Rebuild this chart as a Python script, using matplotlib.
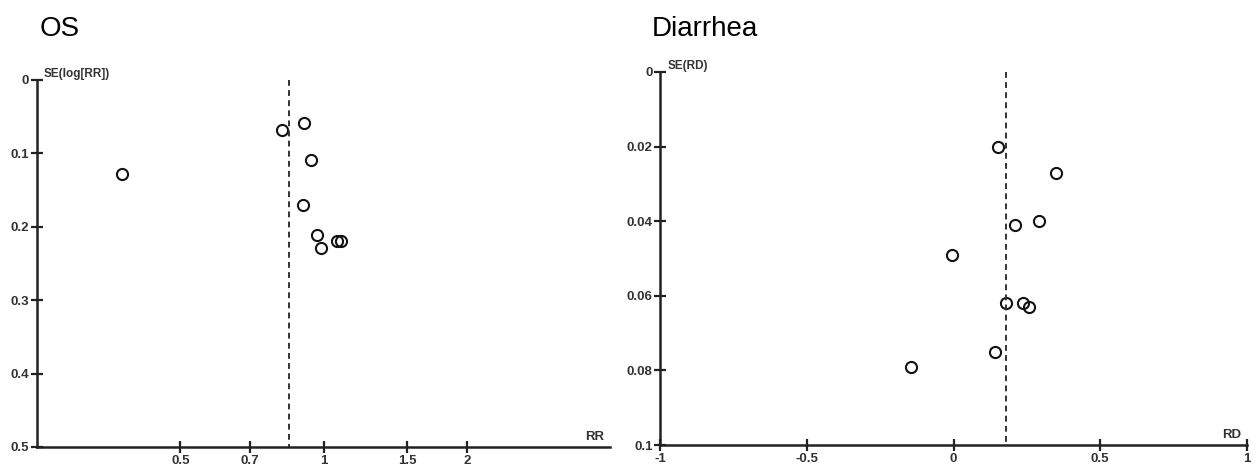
import matplotlib
matplotlib.use('Agg')
import matplotlib.pyplot as plt
from matplotlib.ticker import FixedLocator, FixedFormatter, NullLocator

# OS funnel plot: risk ratio vs SE(log[RR])
os_rr = [0.816, 0.911, 0.941, 0.378, 0.904, 0.968, 1.067, 1.09, 0.989]
os_se = [0.068, 0.058, 0.109, 0.128, 0.171, 0.211, 0.219, 0.219, 0.229]
os_pooled = 0.848
os_xticks = [0.5, 0.7, 1, 1.5, 2]
os_xticklabels = ['0.5', '0.7', '1', '1.5', '2']
os_yticks = [0, 0.1, 0.2, 0.3, 0.4, 0.5]
os_yticklabels = ['0', '0.1', '0.2', '0.3', '0.4', '0.5']

# Diarrhea funnel plot: risk difference vs SE(RD)
dia_rd = [0.150, 0.351, 0.208, 0.293, -0.004, 0.180, 0.237, 0.258, 0.140, -0.146]
dia_se = [0.020, 0.027, 0.041, 0.040, 0.049, 0.062, 0.062, 0.063, 0.075, 0.079]
dia_pooled = 0.178
dia_xticks = [-1, -0.5, 0, 0.5, 1]
dia_xticklabels = ['-1', '-0.5', '0', '0.5', '1']
dia_yticks = [0, 0.02, 0.04, 0.06, 0.08, 0.1]
dia_yticklabels = ['0', '0.02', '0.04', '0.06', '0.08', '0.1']

plt.rcParams['font.family'] = ['Liberation Sans Narrow', 'Liberation Sans', 'DejaVu Sans']

fig = plt.figure(figsize=(12.53, 4.76), dpi=100)
ax1 = fig.add_axes([0.0295, 0.061, 0.4575, 0.771])
ax2 = fig.add_axes([0.527, 0.065, 0.468, 0.784])


def funnel(ax, x, y, pooled, xlim, ylim, xticks, xlabels, yticks, ylabels, xname, yname):
    ax.plot(x, y, 'o', ms=8, mfc='none', mec='#111111', mew=1.5, clip_on=False)
    ax.plot([pooled, pooled], list(ylim), '--', color='#333333', lw=1.4, dashes=(3, 2.2))
    ax.set_xlim(*xlim)
    ax.set_ylim(ylim[1], ylim[0])
    ax.xaxis.set_major_locator(FixedLocator(xticks))
    ax.xaxis.set_major_formatter(FixedFormatter(xlabels))
    ax.xaxis.set_minor_locator(NullLocator())
    ax.set_yticks(yticks)
    ax.set_yticklabels(ylabels)
    for s in ['top', 'right']:
        ax.spines[s].set_visible(False)
    for s in ['left', 'bottom']:
        ax.spines[s].set_linewidth(1.8)
        ax.spines[s].set_color('#222222')
    ax.tick_params(direction='inout', length=9, width=1.6, color='#222222',
                   labelsize=9.5, labelcolor='#333333', pad=1)
    for lab in ax.get_xticklabels() + ax.get_yticklabels():
        lab.set_fontweight('bold')
    ax.text(0.012, 1.0, yname, transform=ax.transAxes, fontsize=8.5, color='#333333',
            fontweight='bold', ha='left', va='bottom')
    ax.text(0.99, 0.012, xname, transform=ax.transAxes, fontsize=9.5, color='#333333',
            fontweight='bold', ha='right', va='bottom')


funnel(ax1, os_rr, os_se, os_pooled, (0.25, 4), (0, 0.5), os_xticks, os_xticklabels,
       os_yticks, os_yticklabels, 'RR', 'SE(log[RR])')
ax1.set_xscale('log')
ax1.xaxis.set_major_locator(FixedLocator(os_xticks))
ax1.xaxis.set_major_formatter(FixedFormatter(os_xticklabels))
ax1.xaxis.set_minor_locator(NullLocator())
for lab in ax1.get_xticklabels():
    lab.set_fontweight('bold')
ax1.set_xlim(0.25, 4)

funnel(ax2, dia_rd, dia_se, dia_pooled, (-1, 1), (0, 0.1), dia_xticks, dia_xticklabels,
       dia_yticks, dia_yticklabels, 'RD', 'SE(RD)')

fig.text(0.032, 0.940, 'OS', fontsize=20, family=['Liberation Sans', 'DejaVu Sans'],
         ha='left', va='center')
fig.text(0.520, 0.940, 'Diarrhea', fontsize=20, family=['Liberation Sans', 'DejaVu Sans'],
         ha='left', va='center')

fig.savefig('out.png', dpi=100)
